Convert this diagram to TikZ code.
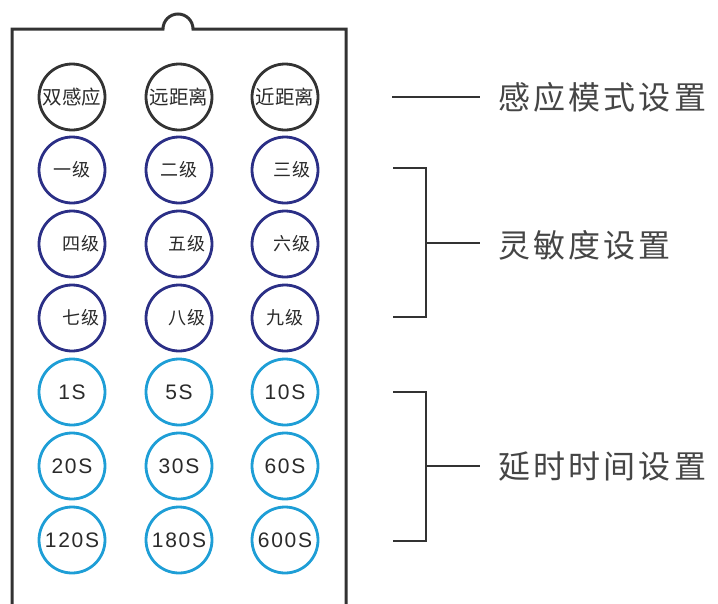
\documentclass[tikz,border=0pt]{standalone}
\usepackage{fontspec}
\newfontfamily\cjk{Noto Sans CJK SC}
\newfontfamily\cjksp[LetterSpace=8]{Noto Sans CJK SC}
\newfontfamily\cjklab[LetterSpace=10]{Noto Sans CJK SC}
\newfontfamily\numf[LetterSpace=8]{Liberation Sans}
\definecolor{boxc}{HTML}{333333}
\definecolor{navy}{HTML}{2B2F86}
\definecolor{sky}{HTML}{1E9ED6}
\definecolor{txt}{HTML}{2A2A2A}
\definecolor{labc}{HTML}{454545}
\tikzset{
  btn/.style={circle,draw,line width=2.8pt,minimum size=66pt,inner sep=0pt,text=txt},
  modebtn/.style={btn,draw=boxc,font=\cjk\fontsize{19.5}{20}\selectfont},
  lvlbtn/.style={btn,draw=navy,font=\cjksp\fontsize{18}{18}\selectfont},
  timebtn/.style={btn,draw=sky,font=\numf\fontsize{21}{21}\selectfont},
  lab/.style={anchor=west,inner sep=0pt,text=labc,font=\cjklab\fontsize{32}{32}\selectfont},
  conn/.style={draw=boxc,line width=2.5pt},
}
\begin{document}
\begin{tikzpicture}[x=1pt,y=-1pt]
\useasboundingbox (0,0) rectangle (718,603);
% outer card
\draw[boxc,line width=3pt] (12,610) -- (12,29) -- (163,29) arc[start angle=180,end angle=360,radius=15] -- (346,29) -- (346,610);
% row 1
\node[modebtn] (m1) at (72,97) {双感应};
\node[modebtn] (m2) at (179,97) {远距离};
\node[modebtn] (m3) at (285,97) {近距离};
% rows 2-4
\node[lvlbtn] (l1) at (72,170) {一级};
\node[lvlbtn] (l2) at (179,170) {二级};
\node[lvlbtn] (l3) at (285,170) {\hspace{14pt}三级};
\node[lvlbtn] (l4) at (72,244) {\hspace{18pt}四级};
\node[lvlbtn] (l5) at (179,244) {\hspace{16pt}五级};
\node[lvlbtn] (l6) at (285,244) {\hspace{14pt}六级};
\node[lvlbtn] (l7) at (72,318) {\hspace{18pt}七级};
\node[lvlbtn] (l8) at (179,318) {\hspace{16pt}八级};
\node[lvlbtn] (l9) at (285,318) {九级};
% rows 5-7
\node[timebtn] (t1) at (72,392) {1S};
\node[timebtn] (t2) at (179,392) {5S};
\node[timebtn] (t3) at (285,392) {10S};
\node[timebtn] (t4) at (72,466) {20S};
\node[timebtn] (t5) at (179,466) {30S};
\node[timebtn] (t6) at (285,466) {60S};
\node[timebtn] (t7) at (72,540) {120S};
\node[timebtn] (t8) at (179,540) {180S};
\node[timebtn] (t9) at (285,540) {600S};
% labels
\node[lab] (L1) at (498,97) {感应模式设置};
\node[lab] (L2) at (498,245) {灵敏度设置};
\node[lab] (L3) at (498,467) {延时时间设置};
% connectors
\coordinate (a1) at (392,97);
\coordinate (a2) at (480,97);
\draw[conn] (a1) -- (a2);
\coordinate (b1) at (393,168);
\coordinate (b2) at (426,168);
\coordinate (b3) at (426,317);
\coordinate (b4) at (393,317);
\coordinate (bm) at (426,243);
\coordinate (be) at (480,243);
\draw[conn] (b1) -- (b2) -- (b3) -- (b4);
\draw[conn] (bm) -- (be);
\coordinate (c1) at (393,392);
\coordinate (c2) at (426,392);
\coordinate (c3) at (426,541);
\coordinate (c4) at (393,541);
\coordinate (cm) at (426,466);
\coordinate (ce) at (480,466);
\draw[conn] (c1) -- (c2) -- (c3) -- (c4);
\draw[conn] (cm) -- (ce);
\end{tikzpicture}
\end{document}
